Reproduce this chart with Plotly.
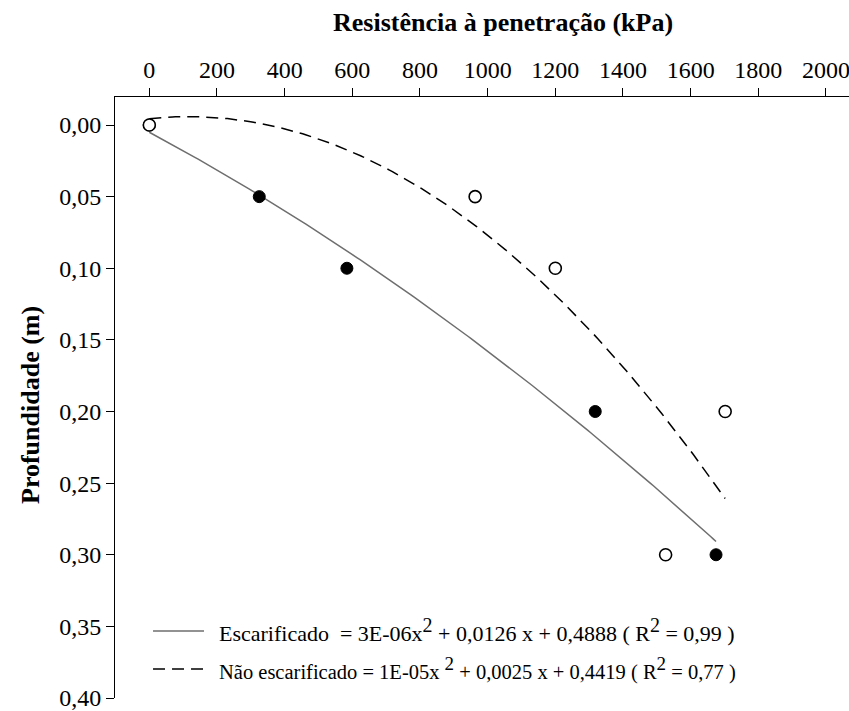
import numpy as np
import plotly.graph_objects as go

# Data
esc_x = [0, 325, 584, 1318, 1675]
esc_y = [0.00, 0.05, 0.10, 0.20, 0.30]
nao_x = [0, 963, 1200, 1702, 1526]
nao_y = [0.00, 0.05, 0.10, 0.20, 0.30]

x_ticks = [0, 200, 400, 600, 800, 1000, 1200, 1400, 1600, 1800, 2000]
y_ticks = [0.00, 0.05, 0.10, 0.15, 0.20, 0.25, 0.30, 0.35, 0.40]
y_ticktext = ["0,00", "0,05", "0,10", "0,15", "0,20", "0,25", "0,30", "0,35", "0,40"]


def sup2(px):
    return '<sup><span style="font-size:%dpx">2</span></sup>' % px


label_esc = "Escarificado  = 3E-06x" + sup2(20) + " + 0,0126 x + 0,4888 ( R" + sup2(20) + " = 0,99 )"
label_nao = "Não escarificado = 1E-05x " + sup2(19) + " + 0,0025 x + 0,4419 ( R" + sup2(19) + " = 0,77 )"

FONT = "Liberation Serif"

# Quadratic trend lines fitted to the data
def fit_line(xs, ys):
    coef = np.polyfit(xs, ys, 2)
    xx = np.linspace(0, max(xs), 200)
    return xx, np.polyval(coef, xx)

fx_esc, fy_esc = fit_line(esc_x, esc_y)
fx_nao, fy_nao = fit_line(nao_x, nao_y)

fig = go.Figure()
fig.add_trace(go.Scatter(x=fx_esc, y=fy_esc, mode="lines",
                         line=dict(color="#6e6e6e", width=1.5), showlegend=False, hoverinfo="skip"))
fig.add_trace(go.Scatter(x=fx_nao, y=fy_nao, mode="lines",
                         line=dict(color="black", width=1.5, dash="12px,7px"), showlegend=False, hoverinfo="skip"))
fig.add_trace(go.Scatter(x=esc_x, y=esc_y, mode="markers",
                         marker=dict(size=12, color="black", line=dict(width=1, color="black")),
                         showlegend=False))
fig.add_trace(go.Scatter(x=nao_x, y=nao_y, mode="markers",
                         marker=dict(size=12, color="white", line=dict(width=1.6, color="black")),
                         showlegend=False))

# Manual legend
fig.add_shape(type="line", xref="paper", yref="paper", x0=0.0518, x1=0.1213, y0=0.1115, y1=0.1115,
              line=dict(color="#6e6e6e", width=1.5))
fig.add_shape(type="line", xref="paper", yref="paper", x0=0.0518, x1=0.1213, y0=0.0483, y1=0.0483,
              line=dict(color="black", width=1.5, dash="12px,7px"))
fig.add_annotation(text=label_esc, xref="paper", yref="paper", x=0.139, y=0.1135,
                   xanchor="left", yanchor="middle", showarrow=False,
                   font=dict(family=FONT, size=22, color="black"))
fig.add_annotation(text=label_nao, xref="paper", yref="paper", x=0.139, y=0.0493,
                   xanchor="left", yanchor="middle", showarrow=False,
                   font=dict(family=FONT, size=20.5, color="black"))

# Axis titles
fig.add_annotation(text="<b>Resistência à penetração (kPa)</b>", xref="paper", yref="paper",
                   x=(503 - 115) / 734, y=1 + (97 - 22) / 601, xanchor="center", yanchor="middle",
                   showarrow=False, font=dict(family=FONT, size=26, color="black"))
fig.add_annotation(text="<b>Profundidade (m)</b>", xref="paper", yref="paper",
                   x=(30 - 115) / 734, y=(698 - 405) / 601, xanchor="center", yanchor="middle",
                   textangle=-90, showarrow=False, font=dict(family=FONT, size=26, color="black"))

fig.update_layout(
    width=849, height=711,
    margin=dict(l=115, r=0, t=97, b=13, autoexpand=False),
    paper_bgcolor="white", plot_bgcolor="white",
    font=dict(family=FONT, size=24, color="black"),
    showlegend=False,
)
fig.update_xaxes(side="top", range=[-101.4, 2068], tickvals=x_ticks,
                 ticks="outside", ticklen=8, tickwidth=1, tickcolor="black",
                 showline=True, linecolor="black", linewidth=1, showgrid=False, zeroline=False,
                 automargin=False, ticklabeloverflow="allow",
                 tickfont=dict(family=FONT, size=24, color="black"))
fig.update_yaxes(range=[0.40, -0.01955], tickvals=y_ticks, ticktext=y_ticktext,
                 ticks="outside", ticklen=8, tickwidth=1, tickcolor="black",
                 showline=True, linecolor="black", linewidth=1, showgrid=False, zeroline=False,
                 automargin=False, ticklabeloverflow="allow",
                 tickfont=dict(family=FONT, size=24, color="black"))

fig.write_html("out.html", config={"displayModeBar": False},
               post_script="document.body.style.margin='0px';document.body.style.overflow='hidden';")
